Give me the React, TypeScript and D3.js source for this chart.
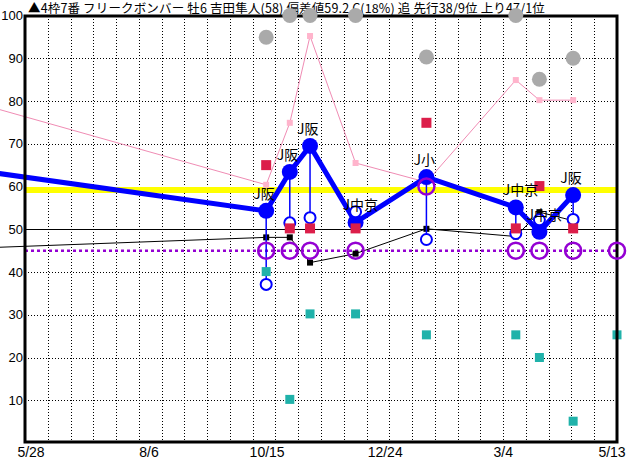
import React, { useEffect, useRef } from 'react';
import * as d3 from 'd3';

// header text of the chart
const title = '▲4枠7番 フリークボンバー 牡6 吉田隼人(58)  偏差値59.2 C(18%) 追 先行38/9位 上り47/1位';

// race dates (first one is the previous race, off the left edge; last is today's race)
const raceDates = ['2022-03-20', '2022-10-18', '2022-11-01', '2022-11-13', '2022-12-10',
  '2023-01-21', '2023-03-15', '2023-03-29', '2023-04-18', '2023-05-14'];
const venues = ['', 'J阪', 'J阪', 'J阪', 'J中京', 'J小', 'J中京', 'J中京', 'J阪', ''];

// series (null = no mark)
const indexValues = [66, 54.3, 63.4, 69.5, 51.6, 62.2, 55.1, 49.4, 58.0, null];
const pinkValues = [84, 60.4, 74.9, 95.2, 65.5, 61, 84.9, 80.2, 80.2, null];
const blackValues = [45, 48.1, 48.1, 42.2, 44.3, 50.1, 48.3, 54, 52, null];
const openValues = [null, 37.1, 51.5, 52.7, 54.1, 47.6, 49, 52.2, 52.3, null];
const redValues = [null, 65, 50.2, 50.2, 50.2, 74.9, 50.2, 60.1, 50.2, null];
const cyanValues = [null, 40.1, 10.2, 30.2, 30.2, 25.3, 25.3, 20, 5.1, 25.3];
const greyValues = [null, 94.9, 100, 100, 100, 90.3, 100, 85.1, 90, null];
const purpleValues = [null, 45, 45, 45, 45, 60, 45, 45, 45, 45];

const deviation = 59.2;
const baseLine = 50;
const purpleLine = 45;

const yTicks = [10, 20, 30, 40, 50, 60, 70, 80, 90, 100];
const xTickDates = ['2022-05-28', '2022-08-06', '2022-10-15', '2022-12-24', '2023-03-04', '2023-05-13'];
const xTickLabels = ['5/28', '8/6', '10/15', '12/24', '3/4', '5/13'];

const W = 632;
const H = 460;
const left = 25, right = 617, top = 16, bottom = 442;

export default function App() {
  const ref = useRef<SVGSVGElement>(null);

  useEffect(() => {
    const svg = d3.select(ref.current);
    svg.selectAll('*').remove();

    const parse = d3.timeParse('%Y-%m-%d');
    const dates = raceDates.map(d => parse(d) as Date);
    const x = d3.scaleTime()
      .domain([parse('2022-05-28') as Date, parse('2023-05-14') as Date])
      .range([left, right]);
    const y = d3.scaleLinear().domain([0, 100]).range([443, 15.5]);

    svg.append('rect').attr('width', W).attr('height', H).attr('fill', '#fff');

    // grid
    const grid = svg.append('g').attr('stroke', '#000').attr('stroke-width', 1)
      .attr('stroke-dasharray', '1,2');
    const step = (right - left) / 26;
    grid.selectAll('line.v').data(d3.range(1, 26)).enter().append('line')
      .attr('x1', i => Math.round(left + step * i) + 0.5)
      .attr('x2', i => Math.round(left + step * i) + 0.5)
      .attr('y1', top).attr('y2', bottom);
    grid.selectAll('line.h').data(yTicks.filter(t => t < 100 && t !== 50)).enter().append('line')
      .attr('x1', left).attr('x2', right)
      .attr('y1', d => Math.round(y(d)) + 0.5).attr('y2', d => Math.round(y(d)) + 0.5);

    // reference lines
    svg.append('line').attr('x1', left).attr('x2', right)
      .attr('y1', y(deviation)).attr('y2', y(deviation))
      .attr('stroke', '#ffff00').attr('stroke-width', 6);
    svg.append('line').attr('x1', left).attr('x2', right)
      .attr('y1', Math.round(y(baseLine)) + 0.5).attr('y2', Math.round(y(baseLine)) + 0.5)
      .attr('stroke', '#000').attr('stroke-width', 1);
    svg.append('line').attr('x1', left).attr('x2', right)
      .attr('y1', y(purpleLine)).attr('y2', y(purpleLine))
      .attr('stroke', '#9400d3').attr('stroke-width', 2.5).attr('stroke-dasharray', '3,3');

    const pts = (vals: (number | null)[]) =>
      vals.map((v, i) => ({ v, d: dates[i], i })).filter(p => p.v !== null) as { v: number; d: Date; i: number }[];
    const line = d3.line<{ v: number; d: Date }>().x(p => x(p.d)).y(p => y(p.v));

    // pink line
    svg.append('path').attr('d', line(pts(pinkValues))).attr('fill', 'none')
      .attr('stroke', '#f08cb4').attr('stroke-width', 1);
    svg.selectAll('rect.pink').data(pts(pinkValues)).enter().append('rect')
      .attr('x', p => x(p.d) - 3).attr('y', p => y(p.v) - 3)
      .attr('width', 6).attr('height', 6).attr('fill', '#ffb4cc');

    // black line
    svg.append('path').attr('d', line(pts(blackValues))).attr('fill', 'none')
      .attr('stroke', '#000').attr('stroke-width', 1);
    svg.selectAll('rect.black').data(pts(blackValues)).enter().append('rect')
      .attr('x', p => x(p.d) - 3).attr('y', p => y(p.v) - 3)
      .attr('width', 6).attr('height', 6).attr('fill', '#000');

    // blue connectors to open circles
    svg.selectAll('line.conn').data(pts(openValues)).enter().append('line')
      .attr('x1', p => x(p.d)).attr('x2', p => x(p.d))
      .attr('y1', p => y(indexValues[p.i] as number)).attr('y2', p => y(p.v))
      .attr('stroke', '#0000ff').attr('stroke-width', 1.5);

    // index line
    svg.append('path').attr('d', line(pts(indexValues))).attr('fill', 'none')
      .attr('stroke', '#0000ff').attr('stroke-width', 5).attr('stroke-linejoin', 'round');
    svg.selectAll('circle.idx').data(pts(indexValues)).enter().append('circle')
      .attr('cx', p => x(p.d)).attr('cy', p => y(p.v)).attr('r', 8).attr('fill', '#0000ff');

    svg.selectAll('circle.open').data(pts(openValues)).enter().append('circle')
      .attr('cx', p => x(p.d)).attr('cy', p => y(p.v)).attr('r', 5.5)
      .attr('fill', '#fff').attr('stroke', '#0000ff').attr('stroke-width', 2);

    svg.selectAll('rect.red').data(pts(redValues)).enter().append('rect')
      .attr('x', p => x(p.d) - 5).attr('y', p => y(p.v) - 5)
      .attr('width', 10).attr('height', 10).attr('fill', '#dc1e4a');

    svg.selectAll('rect.cyan').data(pts(cyanValues)).enter().append('rect')
      .attr('x', p => x(p.d) - 4.5).attr('y', p => y(p.v) - 4.5)
      .attr('width', 9).attr('height', 9).attr('fill', '#20b2aa');

    // frame
    svg.append('rect').attr('x', left).attr('y', top)
      .attr('width', right - left).attr('height', bottom - top)
      .attr('fill', 'none').attr('stroke', '#000').attr('stroke-width', 3);

    // title
    svg.append('text').attr('x', 28).attr('y', 13)
      .attr('font-family', '"Noto Sans CJK JP", sans-serif').attr('font-size', 12.5)
      .attr('letter-spacing', 0.15)
      .attr('fill', '#000').text(title);

    svg.selectAll('circle.grey').data(pts(greyValues)).enter().append('circle')
      .attr('cx', p => x(p.d)).attr('cy', p => y(p.v)).attr('r', 7.5).attr('fill', '#aaaaaa');

    svg.selectAll('circle.purple').data(pts(purpleValues)).enter().append('circle')
      .attr('cx', p => x(p.d)).attr('cy', p => y(p.v)).attr('r', 8)
      .attr('fill', 'none').attr('stroke', '#9400d3').attr('stroke-width', 2.5);

    // venue labels
    svg.selectAll('text.venue').data(pts(indexValues).filter(p => venues[p.i])).enter().append('text')
      .attr('x', p => x(p.d) - 13).attr('y', p => y(p.v) - 12)
      .attr('font-family', '"Noto Sans CJK JP", sans-serif').attr('font-size', 14)
      .attr('fill', '#000').text(p => venues[p.i]);

    // axes labels
    svg.selectAll('text.yt').data(yTicks).enter().append('text')
      .attr('x', 23).attr('y', d => y(d)).attr('dy', '0.35em')
      .attr('text-anchor', 'end')
      .attr('font-family', '"Liberation Sans", Arial, sans-serif').attr('font-size', 13)
      .text(d => d);
    svg.selectAll('text.xt').data(xTickDates).enter().append('text')
      .attr('x', (d, i) => Math.min(x(parse(d) as Date) + 6, 612))
      .attr('y', 457).attr('text-anchor', 'middle')
      .attr('font-family', '"Liberation Sans", Arial, sans-serif').attr('font-size', 14)
      .text((d, i) => xTickLabels[i]);
  }, []);

  return (
    <svg ref={ref} width={W} height={H}
      style={{ position: 'absolute', left: 0, top: 0, display: 'block' }} />
  );
}
